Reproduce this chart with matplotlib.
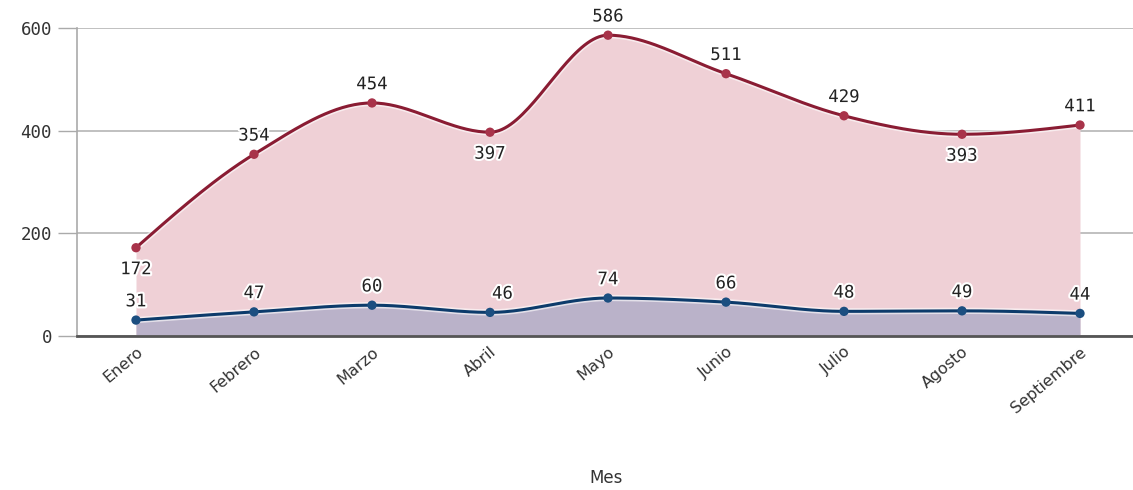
import numpy as np
import matplotlib
matplotlib.use("Agg")
import matplotlib.pyplot as plt
import matplotlib.patheffects as pe
from matplotlib.transforms import ScaledTranslation

meses = ["Enero", "Febrero", "Marzo", "Abril", "Mayo", "Junio", "Julio", "Agosto", "Septiembre"]
serie_a = [172, 354, 454, 397, 586, 511, 429, 393, 411]
serie_b = [31, 47, 60, 46, 74, 66, 48, 49, 44]
y_ticks = [0, 200, 400, 600]
x_title = "Mes"


def monotone(x, y, n=40):
    x = np.asarray(x, float); y = np.asarray(y, float)
    h = np.diff(x); m = np.diff(y) / h
    t = np.zeros_like(y)
    for k in range(1, len(y) - 1):
        s0, s1 = m[k - 1], m[k]
        p = (s0 * h[k] + s1 * h[k - 1]) / (h[k - 1] + h[k])
        t[k] = (np.sign(s0) + np.sign(s1)) * min(abs(s0), abs(s1), 0.5 * abs(p))
    t[0] = (3 * m[0] - t[1]) / 2
    t[-1] = (3 * m[-1] - t[-2]) / 2
    xs, ys = [], []
    for k in range(len(h)):
        u = np.linspace(0, 1, n, endpoint=(k == len(h) - 1))
        h00 = 2 * u**3 - 3 * u**2 + 1
        h10 = u**3 - 2 * u**2 + u
        h01 = -2 * u**3 + 3 * u**2
        h11 = u**3 - u**2
        xs.append(x[k] + u * h[k])
        ys.append(h00 * y[k] + h10 * h[k] * t[k] + h01 * y[k + 1] + h11 * h[k] * t[k + 1])
    return np.concatenate(xs), np.concatenate(ys)


fig = plt.figure(figsize=(11.33, 4.9), dpi=100)
ax = fig.add_axes([77 / 1133, 1 - 336 / 490, 1 - 77 / 1133, (336 - 28) / 490])

x = np.arange(len(meses))
red_line = "#8a1c33"
red_mark = "#a8334a"
red_fill = "#efd0d6"
blue_line = "#0c3b6b"
blue_mark = "#1b4e80"
blue_fill = "#bab2c9"

xa, ya = monotone(x, serie_a)
xb, yb = monotone(x, serie_b)

ax.fill_between(xa, 0, ya, color=red_fill, lw=0, zorder=2)
ax.fill_between(xb, 0, yb, color=blue_fill, lw=0, zorder=3)
halo = [pe.Stroke(linewidth=4.5, foreground="white", alpha=0.6), pe.Normal()]
ax.plot(xa, ya, color=red_line, lw=2.2, zorder=4, path_effects=halo, solid_capstyle="round")
ax.plot(xb, yb, color=blue_line, lw=2.2, zorder=5, path_effects=halo, solid_capstyle="round")
ax.scatter(x, serie_a, s=45, color=red_mark, zorder=6, edgecolors="none")
ax.scatter(x, serie_b, s=45, color=blue_mark, zorder=6, edgecolors="none")

lbl_fx = [pe.withStroke(linewidth=3, foreground="white")]
mono = "DejaVu Sans Mono"
below_a = {0, 3, 7}
for i, v in enumerate(serie_a):
    if i in below_a:
        ax.annotate(str(v), (i, v), xytext=(0, -9), textcoords="offset points", ha="center", va="top",
                    fontsize=12.5, family=mono, color="#222222", path_effects=lbl_fx, zorder=7)
    else:
        ax.annotate(str(v), (i, v), xytext=(0, 7), textcoords="offset points", ha="center", va="bottom",
                    fontsize=12.5, family=mono, color="#222222", path_effects=lbl_fx, zorder=7)
for i, v in enumerate(serie_b):
    dx = 9 if i == 3 else 0
    ax.annotate(str(v), (i, v), xytext=(dx, 7), textcoords="offset points", ha="center", va="bottom",
                fontsize=12.5, family=mono, color="#222222", path_effects=lbl_fx, zorder=7)

ax.set_xlim(-0.5, (1133 - 136) / 118)
ax.set_ylim(0, 600)
ax.set_yticks(y_ticks)
ax.set_yticklabels([str(t) for t in y_ticks], family=mono, fontsize=12.5, color="#333333")
ax.tick_params(axis="y", length=14, width=1, color="#aaaaaa", pad=4)
ax.yaxis.grid(True, color="#b5b5b5", lw=1.2, zorder=1)
ax.set_axisbelow(True)

ax.set_xticks(x)
ax.set_xticklabels(meses, rotation=40, ha="right", va="top", rotation_mode="anchor",
                   fontsize=11.5, color="#333333")
off = ScaledTranslation(9 / 100, 6 / 100, fig.dpi_scale_trans)
for lab in ax.get_xticklabels():
    lab.set_transform(lab.get_transform() + off)
ax.tick_params(axis="x", length=0, pad=6)

for s in ["top", "right"]:
    ax.spines[s].set_visible(False)
ax.spines["left"].set_color("#aaaaaa")
ax.spines["left"].set_linewidth(1.2)
ax.spines["bottom"].set_color("#555555")
ax.spines["bottom"].set_linewidth(2)
ax.spines["bottom"].set_zorder(8)

fig.text(606 / 1133, 1 - 478 / 490, x_title, ha="center", va="center", fontsize=12, color="#333333")

fig.savefig("out.png", dpi=100)
